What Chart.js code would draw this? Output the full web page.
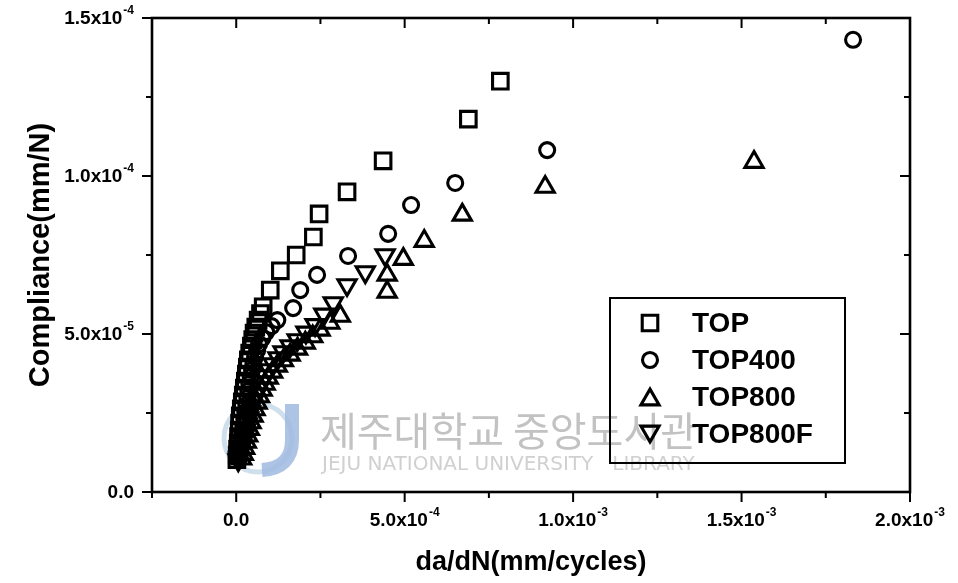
<!DOCTYPE html>
<html>
<head>
<meta charset="utf-8">
<script src="https://cdn.jsdelivr.net/npm/chart.js@4"></script>
<style>
  html, body { margin: 0; padding: 0; background: #fff; }
  canvas { display: block; }
</style>
</head>
<body>
<canvas id="chart" width="958" height="583"></canvas>
<script>
// values (x in 1e-4 mm/cycle, y in 1e-5 mm/N)
const topX = [7.84, 6.89, 4.36, 3.29, 2.46, 2.29, 1.78, 1.31, 1.01, 0.80, 0.72, 0.65, 0.58, 0.53, 0.49, 0.45,
              0.40, 0.36, 0.33, 0.30, 0.27, 0.24, 0.21, 0.18, 0.15, 0.12, 0.10, 0.09, 0.07, 0.06, 0.04, 0.03, 0.02];
const topY = [13.0, 11.8, 10.48, 9.5, 8.8, 8.07, 7.5, 7.0, 6.39, 5.86, 5.65, 5.44, 5.22, 5.03, 4.82, 4.62,
              4.40, 4.18, 3.95, 3.73, 3.51, 3.29, 3.07, 2.85, 2.63, 2.41, 2.18, 1.96, 1.75, 1.55, 1.36, 1.17, 1.02];

const top400X = [18.31, 9.23, 6.50, 5.19, 4.51, 3.32, 2.40, 1.90, 1.69, 1.22, 1.05, 0.89, 0.78, 0.68, 0.62, 0.56,
                 0.51, 0.47, 0.43, 0.39, 0.36, 0.33, 0.30, 0.27, 0.24, 0.21, 0.18, 0.15, 0.13, 0.12, 0.10];
const top400Y = [14.31, 10.82, 9.78, 9.08, 8.17, 7.47, 6.87, 6.39, 5.82, 5.44, 5.25, 5.06, 4.87, 4.68, 4.48, 4.27,
                 4.06, 3.86, 3.64, 3.42, 3.20, 2.98, 2.75, 2.53, 2.31, 2.09, 1.87, 1.65, 1.46, 1.27, 1.10];

const top800X = [15.37, 9.17, 6.71, 5.58, 4.96, 4.48, 4.48, 3.09, 2.78, 2.49, 2.27, 2.05, 1.82, 1.60, 1.40, 1.22,
                 1.08, 0.95, 0.86, 0.77, 0.69, 0.62, 0.56, 0.50, 0.44, 0.39, 0.34, 0.30, 0.25, 0.21, 0.16];
const top800Y = [10.44, 9.65, 8.77, 7.94, 7.37, 6.87, 6.33, 5.57, 5.35, 5.13, 4.92, 4.72, 4.53, 4.34, 4.16, 3.99,
                 3.80, 3.61, 3.42, 3.23, 3.02, 2.82, 2.61, 2.41, 2.20, 1.99, 1.78, 1.58, 1.39, 1.20, 1.05];

const top800fX = [4.42, 3.83, 3.29, 2.88, 2.60, 2.34, 2.07, 1.81, 1.60, 1.39, 1.24, 1.10, 0.98, 0.86, 0.77, 0.68,
                  0.60, 0.53, 0.47, 0.42, 0.37, 0.33, 0.28, 0.24, 0.19, 0.15, 0.10, 0.06];
const top800fY = [7.5, 6.96, 6.55, 5.98, 5.62, 5.29, 5.05, 4.81, 4.62, 4.43, 4.24, 4.05, 3.86, 3.67, 3.48, 3.29,
                  3.10, 2.91, 2.72, 2.53, 2.34, 2.15, 1.96, 1.77, 1.58, 1.39, 1.20, 1.01];

const seriesNames = ['TOP', 'TOP400', 'TOP800', 'TOP800F'];
const xUnit = 1e-4, yUnit = 1e-5;

// axis ranges and ticks
const xMin = -2.5e-4, xMax = 2.0e-3, xStep = 2.5e-4, xLabelStep = 5e-4;
const yMin = 0, yMax = 1.5e-4, yStep = 2.5e-5, yLabelStep = 5e-5;

const FONT = '"Liberation Sans", Arial, Helvetica, sans-serif';

function isMajor(v, step) {
  const r = v / step;
  return Math.abs(r - Math.round(r)) < 1e-6;
}

function sciParts(v) {
  if (Math.abs(v) < 1e-12) return ['0.0', ''];
  const e = Math.floor(Math.log10(Math.abs(v)) + 1e-9);
  const m = (v / Math.pow(10, e)).toFixed(1);
  return [m + 'x10', String(e)];
}

function drawSci(ctx, v, x, y, align) {
  const [base, exp] = sciParts(v);
  ctx.font = 'bold 19px ' + FONT;
  const wb = ctx.measureText(base).width;
  ctx.font = 'bold 12px ' + FONT;
  const we = exp ? ctx.measureText(exp).width + 1 : 0;
  const w = wb + we;
  let x0 = align === 'right' ? x - w : x - w / 2;
  ctx.textAlign = 'left';
  ctx.textBaseline = 'middle';
  ctx.font = 'bold 19px ' + FONT;
  ctx.fillText(base, x0, y);
  if (exp) {
    ctx.font = 'bold 12px ' + FONT;
    ctx.fillText(exp, x0 + wb + 1, y - 8);
  }
}

function pts(xs, ys) {
  return xs.map((x, i) => ({ x: x * xUnit, y: ys[i] * yUnit }));
}

const styles = [
  { pointStyle: 'rect', radius: 11, rotation: 0 },
  { pointStyle: 'circle', radius: 7.5, rotation: 0 },
  { pointStyle: 'triangle', radius: 10.5, rotation: 0 },
  { pointStyle: 'triangle', radius: 10.5, rotation: 180 }
];
const allData = [pts(topX, topY), pts(top400X, top400Y), pts(top800X, top800Y), pts(top800fX, top800fY)];

const datasets = seriesNames.map((name, i) => ({
  label: name,
  data: allData[i],
  showLine: false,
  borderColor: '#000',
  backgroundColor: 'rgba(0,0,0,0)',
  pointStyle: styles[i].pointStyle,
  pointRadius: styles[i].radius,
  pointRotation: styles[i].rotation,
  pointBorderWidth: 3.1,
  pointHoverRadius: styles[i].radius
}));

// faint library watermark behind the points
const watermark = {
  id: 'watermark',
  beforeDatasetsDraw(chart) {
    const ctx = chart.ctx;
    ctx.save();
    ctx.strokeStyle = 'rgba(195,215,230,0.8)';
    ctx.lineWidth = 5;
    ctx.beginPath();
    ctx.arc(258, 438, 34, 0, Math.PI * 2);
    ctx.stroke();
    ctx.strokeStyle = 'rgba(160,186,225,0.85)';
    ctx.lineWidth = 14;
    ctx.beginPath();
    ctx.moveTo(292, 404);
    ctx.lineTo(292, 440);
    ctx.quadraticCurveTo(292, 468, 262, 470);
    ctx.stroke();
    ctx.fillStyle = '#c2c2c2';
    ctx.font = '40px "Noto Sans CJK KR"';
    ctx.textBaseline = 'middle';
    ctx.fillText('제주대학교 중앙도서관', 320, 431);
    ctx.fillStyle = '#d0d0d0';
    ctx.font = '20px "DejaVu Sans"';
    ctx.fillText('JEJU NATIONAL UNIVERSITY   LIBRARY', 322, 465);
    ctx.restore();
  }
};

function drawSymbol(ctx, st, x, y) {
  const r = st.radius;
  ctx.beginPath();
  if (st.pointStyle === 'rect') {
    const s = r * Math.SQRT1_2;
    ctx.rect(x - s, y - s, 2 * s, 2 * s);
  } else if (st.pointStyle === 'circle') {
    ctx.arc(x, y, r, 0, Math.PI * 2);
  } else {
    const d = st.rotation ? -1 : 1;
    const yc = y + d * r / 4;
    ctx.moveTo(x, yc - d * r);
    ctx.lineTo(x + r * Math.sqrt(3) / 2, yc + d * r / 2);
    ctx.lineTo(x - r * Math.sqrt(3) / 2, yc + d * r / 2);
    ctx.closePath();
  }
  ctx.stroke();
}

// frame, ticks, tick labels and legend box
const frame = {
  id: 'frame',
  afterDraw(chart) {
    const { ctx, chartArea: a, scales: { x, y } } = chart;
    ctx.save();
    ctx.strokeStyle = '#000';
    ctx.fillStyle = '#000';
    ctx.lineWidth = 2.6;
    ctx.strokeRect(a.left, a.top, a.right - a.left, a.bottom - a.top);
    ctx.lineWidth = 2;
    ctx.beginPath();
    x.ticks.forEach((t, i) => {
      const px = x.getPixelForTick(i);
      const L = isMajor(t.value, xLabelStep) ? 10 : 6;
      ctx.moveTo(px, a.bottom); ctx.lineTo(px, a.bottom + L);
      ctx.moveTo(px, a.top); ctx.lineTo(px, a.top + L);
    });
    y.ticks.forEach((t, i) => {
      const py = y.getPixelForTick(i);
      const L = isMajor(t.value, yLabelStep) ? 10 : 6;
      ctx.moveTo(a.left, py); ctx.lineTo(a.left - L, py);
      ctx.moveTo(a.right, py); ctx.lineTo(a.right - L, py);
    });
    ctx.stroke();

    x.ticks.forEach((t, i) => {
      if (isMajor(t.value, xLabelStep) && t.value > -1e-12) {
        drawSci(ctx, t.value, x.getPixelForTick(i), a.bottom + 29, 'center');
      }
    });
    y.ticks.forEach((t, i) => {
      if (isMajor(t.value, yLabelStep)) {
        drawSci(ctx, t.value, a.left - 18, y.getPixelForTick(i) + 1, 'right');
      }
    });

    // legend
    const bx = a.right - 300, by = a.bottom - 194, bw = 235, bh = 165;
    ctx.lineWidth = 2;
    ctx.strokeRect(bx, by, bw, bh);
    ctx.font = 'bold 28px ' + FONT;
    ctx.textAlign = 'left';
    ctx.textBaseline = 'middle';
    ctx.lineWidth = 3.1;
    seriesNames.forEach((name, i) => {
      const ry = by + 25 + i * 37;
      drawSymbol(ctx, styles[i], bx + 40, ry);
      ctx.fillText(name, bx + 82, ry + 1);
    });
    ctx.restore();
  }
};

new Chart(document.getElementById('chart'), {
  type: 'scatter',
  data: { datasets: datasets },
  options: {
    responsive: false,
    animation: false,
    devicePixelRatio: 1,
    layout: { padding: { top: 18, right: 48, left: 0, bottom: 0 } },
    plugins: { legend: { display: false }, tooltip: { enabled: false } },
    scales: {
      x: {
        type: 'linear',
        min: xMin, max: xMax,
        grid: { display: false, drawTicks: false },
        border: { display: false },
        ticks: { stepSize: xStep, display: false, autoSkip: false },
        title: {
          display: true,
          text: 'da/dN(mm/cycles)',
          color: '#000',
          padding: { top: 0, bottom: 4 },
          font: { family: FONT, weight: 'bold', size: 27 }
        },
        afterFit: s => { s.height = 91; s.paddingLeft = 0; s.paddingRight = 0; }
      },
      y: {
        type: 'linear',
        min: yMin, max: yMax,
        grid: { display: false, drawTicks: false },
        border: { display: false },
        ticks: { stepSize: yStep, display: false, autoSkip: false },
        title: {
          display: true,
          text: 'Compliance(mm/N)',
          color: '#000',
          padding: { top: 24, bottom: 0 },
          font: { family: FONT, weight: 'bold', size: 29 }
        },
        afterFit: s => { s.width = 152; s.paddingTop = 0; s.paddingBottom = 0; }
      }
    }
  },
  plugins: [watermark, frame]
});
</script>
</body>
</html>
